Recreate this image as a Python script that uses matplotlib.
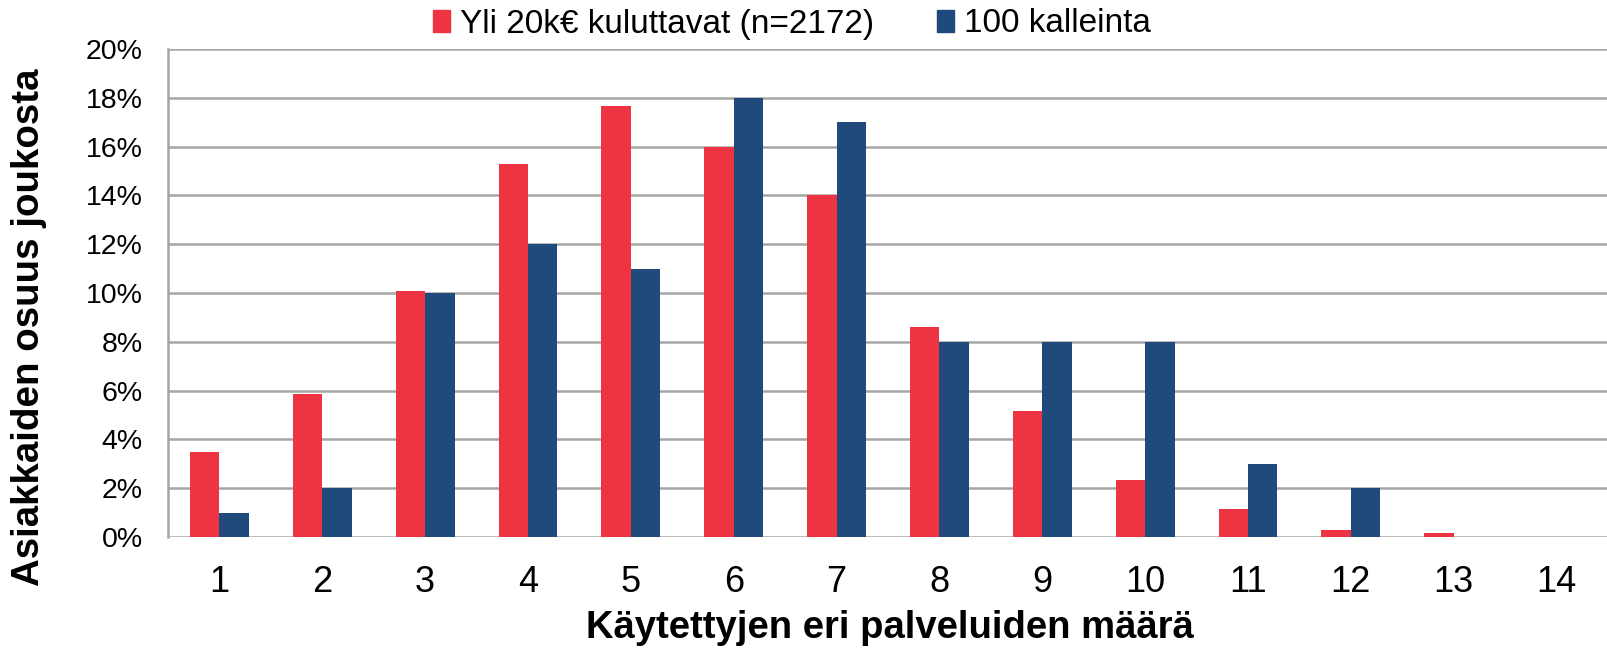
import matplotlib
matplotlib.use("Agg")
import matplotlib.pyplot as plt
import numpy as np
from matplotlib.patches import Patch
from matplotlib.ticker import FuncFormatter

plt.rcParams['font.family'] = ['Liberation Sans', 'DejaVu Sans']

categories = ['1', '2', '3', '4', '5', '6', '7', '8', '9', '10', '11', '12', '13', '14']
series_red = [3.50, 5.87, 10.09, 15.30, 17.66, 15.97, 14.0, 8.59, 5.15, 2.32, 1.13, 0.27, 0.15, 0.0]
series_blue = [1.0, 2.0, 10.0, 12.0, 11.0, 18.0, 17.0, 8.0, 8.0, 8.0, 3.0, 2.0, 0.0, 0.0]
label_red = 'Yli 20k€ kuluttavat (n=2172)'
label_blue = '100 kalleinta'
ylabel = 'Asiakkaiden osuus joukosta'
xlabel = 'Käytettyjen eri palveluiden määrä'
yticks = [0, 2, 4, 6, 8, 10, 12, 14, 16, 18, 20]

RED = '#EE3342'
BLUE = '#214A7C'
GRID = '#A6A6A6'

fig = plt.figure(figsize=(16.08, 6.52), dpi=100)
ax = fig.add_axes([168/1608, 1-537/652, 1-168/1608, (537-49)/652])

x = np.arange(len(categories))
w = 1/3.5
ax.bar(x - w/2, series_red, width=w, color=RED, zorder=3)
ax.bar(x + w/2, series_blue, width=w, color=BLUE, zorder=3)

ax.set_xlim(-0.5, len(categories)-0.5)
ax.set_ylim(0, 20)
ax.set_yticks(yticks)
ax.yaxis.set_major_formatter(FuncFormatter(lambda v, p: f'{v:.0f}%'))
ax.set_xticks(x)
ax.set_xticklabels(categories)
ax.tick_params(axis='y', length=0, labelsize=20.5, pad=18)
ax.tick_params(axis='x', length=0, labelsize=26, pad=20)
ax.grid(axis='y', color=GRID, linewidth=1.8, zorder=0)
ax.set_axisbelow(True)
for s in ['top', 'right', 'bottom']:
    ax.spines[s].set_visible(False)
ax.spines['left'].set_color(GRID)
ax.spines['left'].set_linewidth(1.8)

fig.text(29/1608, 1-327/652, ylabel, rotation=90, ha='center', va='center',
         fontsize=27.7, fontweight='bold')
fig.text(890/1608, 1-628/652, xlabel, ha='center', va='center',
         fontsize=27.5, fontweight='bold')

handles = [Patch(color=RED, label=label_red), Patch(color=BLUE, label=label_blue)]
fig.legend(handles=handles, loc='center', bbox_to_anchor=(792/1608, 1-24/652),
           ncol=2, frameon=False, fontsize=24, handlelength=0.5, handleheight=0.65,
           handletextpad=0.3, columnspacing=1.9)

fig.savefig('out.png', dpi=100)
